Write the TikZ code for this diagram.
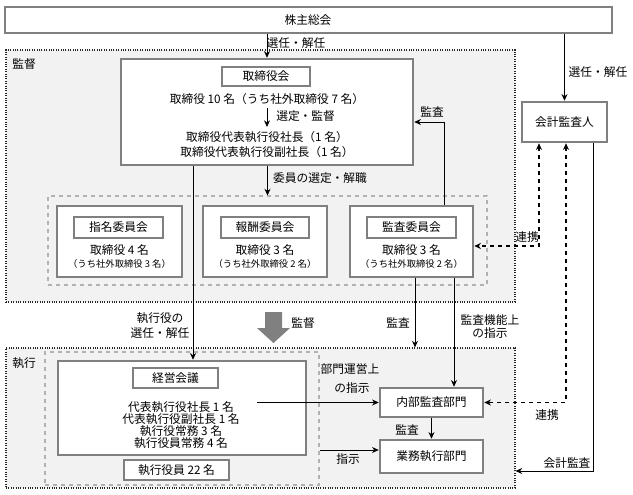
\documentclass[tikz,border=0pt]{standalone}
\usepackage{fontspec}
\setmainfont{Noto Sans CJK JP}
\usetikzlibrary{arrows.meta,fit,calc}
\begin{document}
\begin{tikzpicture}[x=0.75pt,y=-0.75pt,
 font=\fontsize{8.8}{10}\selectfont,
 region/.style={draw=black!85, densely dotted, line width=0.8pt, fill=gray!10, inner sep=0pt},
 grp/.style={draw=gray!60, dashed, line width=0.8pt, inner sep=0pt},
 gbox/.style={draw=gray, line width=1.9pt, fill=white, inner sep=0pt},
 lbl/.style={inner sep=0pt},
 small/.style={font=\fontsize{7}{8}\selectfont, inner sep=0pt},
 arr/.style={-{Stealth[length=5pt,width=4.5pt]}, line width=0.6pt},
 darr/.style={{Stealth[length=5pt,width=4.5pt]}-{Stealth[length=5pt,width=4.5pt]}, dashed, line width=0.8pt},
 ln/.style={line width=0.6pt}]
\useasboundingbox (0,0) rectangle (633,494);
\fill[white] (0,0) rectangle (633,494);

% regions
\node[region, fit={(6,50)(515,302)}] (kantoku) {};
\node[lbl] (kantokuL) at (24,64) {監督};
\node[region, fit={(6,348)(515,488)}] (exec) {};
\node[lbl] (execL) at (24,363) {執行};

% shareholders
\node[gbox, fit={(5,7)(612,33)}] (sh) {};
\node[lbl] (shT) at (308,20) {株主総会};

% board
\node[gbox, fit={(121,59)(413,165)}] (bod) {};
\node[gbox, fit={(222,67)(310,86)}] (bodT) {};
\node[lbl] (bodTt) at (266,76.5) {取締役会};
\node[lbl] (bod1) at (267,99) {取締役 10 名（うち社外取締役 7 名）};
\coordinate (a1) at (267,108);
\coordinate (a2) at (267,127);
\node[lbl, anchor=west] (bodsel) at (276,116) {選定・監督};
\node[lbl] (bod2) at (267,137) {取締役代表執行役社長（1 名）};
\node[lbl] (bod3) at (267,152) {取締役代表執行役副社長（1 名）};

% committees
\node[grp, fit={(48,196)(487,285)}] (grp) {};
\node[gbox, fit={(57,206)(182,277)}] (c1) {};
\node[gbox, fit={(74,217)(163,238)}] (c1t) {};
\node[lbl] (c1tt) at (118.5,227.5) {指名委員会};
\node[lbl] (c1a) at (119.5,250) {取締役 4 名};
\node[small] (c1b) at (119.5,264) {（うち社外取締役 3 名）};

\node[gbox, fit={(203,206)(327,277)}] (c2) {};
\node[gbox, fit={(221,217)(309,238)}] (c2t) {};
\node[lbl] (c2tt) at (265,227.5) {報酬委員会};
\node[lbl] (c2a) at (265,250) {取締役 3 名};
\node[small] (c2b) at (265,264) {（うち社外取締役 2 名）};

\node[gbox, fit={(350,206)(473,277)}] (c3) {};
\node[gbox, fit={(367,217)(456,238)}] (c3t) {};
\node[lbl] (c3tt) at (411.5,227.5) {監査委員会};
\node[lbl] (c3a) at (411.5,250) {取締役 3 名};
\node[small] (c3b) at (411.5,264) {（うち社外取締役 2 名）};

% accounting auditor
\node[gbox, fit={(522,102)(607,142)}] (kai) {};
\node[lbl] (kaiT) at (564.5,122) {会計監査人};

% execution
\node[grp, fit={(45,352)(319,485)}] (dinner) {};
\node[gbox, fit={(58,361)(306,455)}] (keiei) {};
\node[gbox, fit={(133,368)(218,388)}] (keieiT) {};
\node[lbl] (keieiTt) at (175.5,378) {経営会議};
\node[lbl] (k1) at (181,407) {代表執行役社長 1 名};
\node[lbl] (k2) at (181,419) {代表執行役副社長 1 名};
\node[lbl] (k3) at (181,431) {執行役常務 3 名};
\node[lbl] (k4) at (181,443) {執行役員常務 4 名};
\node[gbox, fit={(124,460)(229,480)}] (ex22) {};
\node[lbl] (ex22t) at (176.5,470) {執行役員 22 名};

\node[gbox, fit={(380,388)(483,417)}] (naibu) {};
\node[lbl] (naibuT) at (431.5,402.5) {内部監査部門};
\node[gbox, fit={(380,440)(483,473)}] (gyomu) {};
\node[lbl] (gyomuT) at (431.5,456.5) {業務執行部門};

% big gray arrow
\fill[gray] (265,312) -- (282,312) -- (282,328) -- (290,328) -- (273.5,343) -- (257,328) -- (265,328) -- cycle;

% labels
\node[lbl] (L1) at (296,43) {選任・解任};
\node[lbl] (L2) at (598,72) {選任・解任};
\node[lbl] (L3) at (432,112) {監査};
\node[lbl] (L4) at (320,178) {委員の選定・解職};
\node[lbl] (L5) at (527,237) {連携};
\node[lbl] (L6) at (160,318) {執行役の};
\node[lbl] (L7) at (160,333) {選任・解任};
\node[lbl] (L8) at (303,323) {監督};
\node[lbl] (L9) at (398,323) {監査};
\node[lbl] (L10) at (490,320) {監査機能上};
\node[lbl] (L11) at (490,333) {の指示};
\node[lbl] (L12) at (350,369) {部門運営上};
\node[lbl] (L13) at (352,388) {の指示};
\node[lbl] (L14) at (407,430) {監査};
\node[lbl] (L15) at (348,459) {指示};
\node[lbl] (L16) at (547,415) {連携};
\node[lbl] (L17) at (567,463) {会計監査};

% helper coordinates
\coordinate (x193) at (193,0);
\coordinate (x444) at (444,0);
\coordinate (x539) at (539,0);
\coordinate (x566) at (566,0);
\coordinate (x593) at (593,0);
\coordinate (x415) at (415,0);
\coordinate (x454) at (454,0);
\coordinate (x257) at (257,0);
\coordinate (y122) at (0,122);
\coordinate (y246) at (0,246);
\coordinate (y450) at (0,450);
\coordinate (y471) at (0,471);

% connectors
\draw[arr] (bod.north |- sh.south) -- (bod.north);
\draw[arr] (kai.north |- sh.south) -- (kai.north);
\draw[arr] (a1) -- (a2);
\draw[arr] (grp.north |- bod.south) -- (grp.north);
\draw[arr] (bod.south -| x193) -- (keiei.north -| x193);
\draw[arr] (c3.north -| x444) |- (bod.east |- y122);
\draw[darr] (kai.south -| x539) |- (c3.east |- y246);
\draw[darr] (kai.south -| x566) |- (naibu.east);
\draw[arr] (kai.south -| x593) |- (exec.east |- y471);
\draw[arr] (c3.south -| x415) -- (exec.north -| x415);
\draw[arr] (c3.south -| x454) -- (naibu.north -| x454);
\draw[arr] (naibu.west -| x257) -- (naibu.west);
\draw[arr] (dinner.east |- y450) -- (gyomu.west |- y450);
\draw[arr] (naibu.south) -- (gyomu.north);
\end{tikzpicture}
\end{document}
